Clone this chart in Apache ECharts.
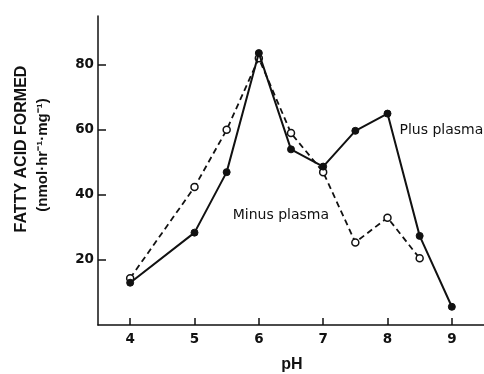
<!DOCTYPE html>
<html>
<head>
<meta charset="utf-8">
<script src="https://cdn.jsdelivr.net/npm/echarts@6/dist/echarts.min.js"></script>
<style>
html,body{margin:0;padding:0;background:#fff;}
#chart{width:484px;height:374px;}
</style>
</head>
<body>
<div id="chart"></div>
<script>
// Data
const phPlus = [4, 5, 5.5, 6, 6.5, 7, 7.5, 8, 8.5, 9];
const plusPlasma = [13, 28.4, 47, 83.6, 54, 48.7, 59.7, 65, 27.4, 5.6];
const phMinus = [4, 5, 5.5, 6, 6.5, 7, 7.5, 8, 8.5];
const minusPlasma = [14.4, 42.4, 60, 82, 59, 47, 25.4, 33, 20.5];
const xTicks = [4, 5, 6, 7, 8, 9];
const yTicks = [20, 40, 60, 80];

const INK = '#111';
const chart = echarts.init(document.getElementById('chart'));

const plusData = phPlus.map((x, i) => {
  const item = { value: [x, plusPlasma[i]] };
  if (x === 8) {
    item.label = {
      show: true, formatter: 'Plus plasma', position: 'right', offset: [3, 17],
      color: INK, fontFamily: 'DejaVu Sans', fontSize: 14
    };
  }
  return item;
});
const minusData = phMinus.map((x, i) => {
  const item = { value: [x, minusPlasma[i]] };
  if (x === 7.5) {
    item.label = {
      show: true, formatter: 'Minus plasma', position: 'left', offset: [-17, -27],
      color: INK, fontFamily: 'DejaVu Sans', fontSize: 14
    };
  }
  return item;
});

chart.setOption({
  animation: false,
  backgroundColor: '#fff',
  grid: { left: 98, right: -5, top: 16, bottom: 49, containLabel: false },
  xAxis: {
    type: 'value', min: 3.5, max: 9.5,
    axisLine: { show: true, onZero: false, lineStyle: { color: INK, width: 1.5 } },
    axisTick: { show: true, inside: true, length: 7, customValues: xTicks, lineStyle: { color: INK, width: 1.5 } },
    axisLabel: { customValues: xTicks, color: INK, fontFamily: 'DejaVu Sans', fontSize: 13.5, fontWeight: 'bold', margin: 7 },
    splitLine: { show: false }
  },
  yAxis: {
    type: 'value', min: 0, max: 95,
    axisLine: { show: true, lineStyle: { color: INK, width: 1.5 } },
    axisTick: { show: true, inside: true, length: 8, customValues: yTicks, lineStyle: { color: INK, width: 1.5 } },
    axisLabel: { customValues: yTicks, color: INK, fontFamily: 'DejaVu Sans', fontSize: 13.5, fontWeight: 'bold', margin: 4 },
    splitLine: { show: false }
  },
  graphic: [
    {
      type: 'text', x: 22, y: 149, rotation: Math.PI / 2,
      style: { text: 'FATTY ACID FORMED', fill: INK, font: 'bold 16px "Liberation Sans"', textAlign: 'center', textVerticalAlign: 'middle' }
    },
    {
      type: 'text', x: 43, y: 155, rotation: Math.PI / 2,
      style: { text: '(nmol·hr⁻¹·mg⁻¹)', fill: INK, font: 'bold 15px "Liberation Sans"', textAlign: 'center', textVerticalAlign: 'middle' }
    },
    {
      type: 'text', x: 292, y: 365,
      style: { text: 'pH', fill: INK, font: 'bold 16px "Liberation Sans"', textAlign: 'center', textVerticalAlign: 'middle' }
    }
  ],
  series: [
    {
      name: 'Minus plasma', type: 'line', data: minusData,
      symbol: 'circle', symbolSize: 7,
      lineStyle: { color: INK, width: 1.8, type: [6, 4] },
      itemStyle: { color: '#fff', borderColor: INK, borderWidth: 1.5 },
      z: 2
    },
    {
      name: 'Plus plasma', type: 'line', data: plusData,
      symbol: 'circle', symbolSize: 7,
      lineStyle: { color: INK, width: 2 },
      itemStyle: { color: INK, borderColor: INK, borderWidth: 1 },
      z: 3
    }
  ]
});
</script>
</body>
</html>
